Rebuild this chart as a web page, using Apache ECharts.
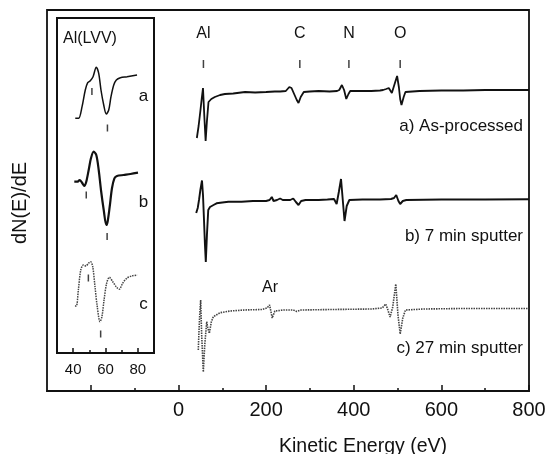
<!DOCTYPE html>
<html>
<head>
<meta charset="utf-8">
<script src="https://cdn.jsdelivr.net/npm/echarts@6/dist/echarts.min.js"></script>
<style>
html,body{margin:0;padding:0;background:#fff;}
#chart{width:553px;height:454px;}
</style>
</head>
<body>
<div id="chart"></div>
<script>
// ---- Main spectra: [kinetic energy (eV), dN(E)/dE relative signal] ----
const curveA = [[42,-47],[46,-35],[50,-20],[53,-8],[56,3],[59,-25],[62,-50],[65,-30],[68.6,-11],[75,-8],[83,-6],[95,-4],[106,-3],[125,-2.5],[152,-1],[175,-1.5],[200,-1],[220,-0.5],[232,-0.5],[245,0],[253,4],[258,3],[264,-3],[270,-9],[274,-12],[279,-6],[286,-1],[300,-0.5],[320,0],[345,-0.5],[362,0],[367,1],[373,6],[378,1],[383,-8],[388,-3],[392,0],[410,0],[440,0],[460,0.5],[467,1],[474,2],[480,3],[487,-2],[490,0],[494,8],[499,15],[503,4],[506,-8],[509,-14],[514,-6],[518,-1],[522,0],[550,0],[600,0.5],[650,0.5],[700,1],[750,1],[800,1]];
const curveB = [[40.5,-13],[41.6,-15],[44,-8],[46.9,0],[50,10],[53.7,19.5],[56,5],[58.3,-20],[60.5,-45],[62.4,-62],[65,-35],[68,-10],[72,-7],[80,-5],[87,-3.3],[100,-2.5],[114,-1.7],[144,-1.7],[170,-1],[200,-1],[208,0],[213,3],[217,-1],[225,0],[232,1.5],[238,0],[255,0],[262,1.5],[268,-2],[274,-5],[280,-1],[290,0],[320,0],[340,0.5],[355,1],[361,-4],[366,8],[371,21],[375,0],[379,-21],[384,-6],[390,0],[420,0.5],[460,0.5],[485,1],[492,2],[497,5],[502,-1],[506,-4],[512,-1],[520,0],[600,0.5],[700,0.5],[800,0.7]];
const curveC = [[45.3,-40],[46.5,-25],[48.5,-5],[50.7,10],[53,-25],[56.7,-62],[60,-35],[64.5,-11.7],[67,-18],[70.4,-23.3],[75,-12],[79.5,-6.7],[95,-2.7],[118,-1],[150,0],[190,0.5],[202,2],[208,5],[214,-8],[220,-1],[240,0],[262,0],[270,-1.5],[280,0],[350,0.5],[440,1],[465,2],[473,6],[478,0],[483,-7],[489,3],[496,26],[501,-5],[506,-24],[512,-8],[518,0],[560,1],[650,1.5],[800,1.5]];
const curveNames = ['a) As-processed', 'b) 7 min sputter', 'c) 27 min sputter'];

// element markers (eV)
const elementNames = ['Al', 'C', 'N', 'O'];
const elementEnergies = [57, 277, 389, 506];
const arName = 'Ar';
const arEnergy = 209;

// x-axis ticks
const xLabelValues = [0, 200, 400, 600, 800];
const xMajorTicks = [-200, 0, 200, 400, 600, 800];
const xMinorTicks = [-100, 100, 300, 500, 700];

// ---- Inset Al(LVV) spectra ----
const insetA = [[41.3,-18.3],[43.4,-18.3],[45.5,-6.7],[47.5,10],[49,17.3],[50.6,19.3],[52.3,23.3],[54.3,32.7],[55.8,26.7],[57.2,10],[58.9,-5],[60.5,-14],[62,-10],[63.4,3.3],[65.1,15],[66.7,20],[69.2,22.3],[73.3,23.3],[79.5,25]];
const insetB = [[40.7,18.3],[42.8,18.3],[44,20],[45.5,17.3],[46.9,14],[48.1,18.3],[49.6,30],[51,41.7],[52.7,48.3],[54.3,45],[55.8,30],[57.2,10],[58.9,-10],[60.5,-25],[61.3,-21.7],[62.6,-6.7],[64,11.7],[65.5,21.7],[67.1,24],[71.2,25],[75.4,26],[80.1,27.3]];
const insetC = [[41.1,-6],[42,-6],[43.2,10],[44.7,30],[46.3,35],[47.9,34],[49.4,36.7],[50.8,38.3],[52.1,33.3],[53.5,13.3],[54.9,-6.7],[56.6,-21.7],[57.8,-16.7],[59.1,0],[60.7,16.7],[62.4,22.7],[64.5,18.3],[66.9,12.7],[68.5,10.7],[70.6,16.7],[73.1,21.7],[76.2,24],[79.7,25]];
const insetMarksA = [[51.6, 8.5], [61.2, -28]];
const insetMarksB = [[48.1, 5], [61.0, -36.5]];
const insetMarksC = [[49.4, 22], [57, -34]];
const insetNames = ['a', 'b', 'c'];
const insetTitle = 'Al(LVV)';
const insetLabelValues = [40, 60, 80];
const insetMajorTicks = [40, 60, 80];
const insetMinorTicks = [50, 70];

// ---- presentation ----
const FONT = "'Liberation Sans', Arial, Helvetica, sans-serif";
const INK = '#111';
const mainOffsets = [300, 191, 81];
const insetOffsets = [253, 153, 53];
const shift = (arr, off) => arr.map(p => [p[0], p[1] + off]);

const chart = echarts.init(document.getElementById('chart'), null, {renderer: 'canvas'});

const hiddenY = (gi, max) => ({
  gridIndex: gi, type: 'value', min: 0, max: max,
  axisLine: {show: false}, axisTick: {show: false}, axisLabel: {show: false}, splitLine: {show: false}
});

const option = {
  backgroundColor: '#fff',
  animation: false,
  textStyle: {fontFamily: FONT, color: INK},
  grid: [
    {left: 47, top: 10, width: 482, height: 381, show: true, borderColor: INK, borderWidth: 1.8, containLabel: false},
    {left: 57, top: 18, width: 97, height: 335, show: true, borderColor: INK, borderWidth: 2, containLabel: false}
  ],
  xAxis: [
    {gridIndex: 0, type: 'value', min: -300, max: 800, position: 'bottom',
      axisLine: {show: true, lineStyle: {color: INK, width: 1.8}},
      axisTick: {show: true, inside: true, length: 6, customValues: xMajorTicks, lineStyle: {color: INK, width: 1.5}},
      axisLabel: {show: true, customValues: xLabelValues, fontSize: 20, margin: 9, color: INK, fontFamily: FONT},
      splitLine: {show: false}},
    {gridIndex: 0, type: 'value', min: -300, max: 800, position: 'bottom',
      axisLine: {show: false},
      axisTick: {show: true, inside: true, length: 3, customValues: xMinorTicks, lineStyle: {color: INK, width: 1.5}},
      axisLabel: {show: false}, splitLine: {show: false}},
    {gridIndex: 1, type: 'value', min: 30, max: 90, position: 'bottom',
      axisLine: {show: true, lineStyle: {color: INK, width: 2}},
      axisTick: {show: true, inside: true, length: 5, customValues: insetMajorTicks, lineStyle: {color: INK, width: 1.5}},
      axisLabel: {show: true, customValues: insetLabelValues, fontSize: 15, margin: 9, color: INK, fontFamily: FONT},
      splitLine: {show: false}},
    {gridIndex: 1, type: 'value', min: 30, max: 90, position: 'bottom',
      axisLine: {show: false},
      axisTick: {show: true, inside: true, length: 3, customValues: insetMinorTicks, lineStyle: {color: INK, width: 1.5}},
      axisLabel: {show: false}, splitLine: {show: false}}
  ],
  yAxis: [hiddenY(0, 381), hiddenY(1, 335)],
  series: [
    {type: 'line', xAxisIndex: 0, yAxisIndex: 0, data: shift(curveA, mainOffsets[0]), showSymbol: false,
      lineStyle: {color: INK, width: 1.8}},
    {type: 'line', xAxisIndex: 0, yAxisIndex: 0, data: shift(curveB, mainOffsets[1]), showSymbol: false,
      lineStyle: {color: INK, width: 1.9}},
    {type: 'line', xAxisIndex: 0, yAxisIndex: 0, data: shift(curveC, mainOffsets[2]), showSymbol: false,
      lineStyle: {color: '#444', width: 1.6, type: [1.5, 1]}},
    // element tick marks
    {type: 'scatter', xAxisIndex: 0, yAxisIndex: 0, symbol: 'rect', symbolSize: [1.5, 8],
      itemStyle: {color: INK}, data: elementEnergies.map(e => [e, 327]), silent: true},
    // inset curves
    {type: 'line', xAxisIndex: 2, yAxisIndex: 1, data: shift(insetA, insetOffsets[0]), showSymbol: false, smooth: 0.3,
      lineStyle: {color: INK, width: 1.5}},
    {type: 'line', xAxisIndex: 2, yAxisIndex: 1, data: shift(insetB, insetOffsets[1]), showSymbol: false, smooth: 0.3,
      lineStyle: {color: INK, width: 2.2}},
    {type: 'line', xAxisIndex: 2, yAxisIndex: 1, data: shift(insetC, insetOffsets[2]), showSymbol: false, smooth: 0.3,
      lineStyle: {color: '#444', width: 1.5, type: [1.5, 1]}},
    {type: 'scatter', xAxisIndex: 2, yAxisIndex: 1, symbol: 'rect', symbolSize: [1.5, 7], itemStyle: {color: INK}, silent: true,
      data: shift(insetMarksA, insetOffsets[0]).concat(shift(insetMarksB, insetOffsets[1]), shift(insetMarksC, insetOffsets[2]))}
  ]
};
chart.setOption(option);

// text annotations placed through the axes' own scales
const txt = (x, y, text, size, align, rot) => ({
  type: 'text', x: x, y: y, rotation: rot || 0, silent: true,
  style: {text: text, font: size + 'px ' + FONT, fill: INK, textAlign: align || 'center', textVerticalAlign: 'middle'}
});
const mainPx = (e, y) => chart.convertToPixel({xAxisIndex: 0, yAxisIndex: 0}, [e, y]);
const graphics = [
  txt(20.5, 203, 'dN(E)/dE', 20, 'center', Math.PI / 2),
  txt(363, 447, 'Kinetic Energy (eV)', 19.5, 'center'),
  txt(523, 126, curveNames[0], 17, 'right'),
  txt(523, 236, curveNames[1], 17, 'right'),
  txt(523, 348, curveNames[2], 17, 'right'),
  txt(63, 39, insetTitle, 16, 'left'),
  txt(143.5, 96, insetNames[0], 17, 'center'),
  txt(143.5, 202, insetNames[1], 17, 'center'),
  txt(143.5, 304.5, insetNames[2], 17, 'center')
];
elementNames.forEach((n, i) => {
  const p = mainPx(elementEnergies[i], 357.5);
  graphics.push(txt(p[0], p[1], n, 16, 'center'));
});
const pAr = mainPx(arEnergy, 103);
graphics.push(txt(pAr[0], pAr[1], arName, 16, 'center'));
chart.setOption({graphic: graphics});
</script>
</body>
</html>
